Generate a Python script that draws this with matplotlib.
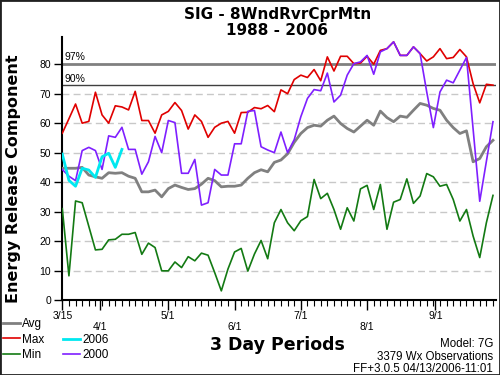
import matplotlib
matplotlib.use("Agg")
import matplotlib.pyplot as plt
from matplotlib.patches import Rectangle

plt.rcParams['font.family'] = ['Liberation Sans', 'DejaVu Sans']
wide = ['DejaVu Sans']

# 3 day periods starting 3/15
periods = list(range(66))

avg = [44.7, 44.7, 44.7, 45.0, 42.4, 41.8, 41.3, 43.2, 43.0, 43.2,
       42.0, 41.3, 36.7, 36.7, 37.3, 35.0, 37.8, 39.0, 38.2, 37.5,
       37.8, 39.3, 41.3, 40.5, 38.4, 38.6, 38.6, 39.0, 41.3, 43.2,
       44.2, 43.5, 46.7, 47.5, 49.6, 53.5, 56.5, 58.5, 59.3, 59.0,
       61.0, 62.4, 59.9, 58.2, 57.0, 59.0, 61.0, 59.3, 64.1, 61.9,
       60.5, 62.4, 62.0, 64.4, 66.7, 66.1, 65.0, 64.4, 61.0, 58.5,
       56.5, 57.4, 46.9, 48.0, 52.0, 54.2]

mx = [56.6, 61.5, 66.5, 60.0, 60.6, 70.5, 62.8, 60.0, 65.9, 65.5,
      64.5, 70.8, 60.9, 60.9, 56.6, 62.8, 64.0, 67.0, 64.3, 58.0,
      62.8, 60.6, 55.2, 58.6, 60.0, 60.6, 56.6, 63.6, 63.7, 65.3,
      64.9, 66.0, 63.9, 71.3, 70.0, 74.8, 76.3, 75.5, 78.2, 74.4,
      82.5, 77.7, 82.7, 82.7, 80.2, 80.4, 82.7, 80.0, 84.7, 85.3,
      87.6, 83.0, 83.0, 85.9, 83.6, 81.1, 82.5, 85.3, 81.9, 82.3,
      85.0, 82.5, 73.4, 66.9, 73.2, 72.9]

mn = [31.0, 8.2, 33.6, 33.0, 25.0, 17.0, 17.2, 20.4, 20.6, 22.3,
      22.3, 22.9, 15.5, 19.3, 17.8, 9.9, 9.9, 12.9, 11.0, 14.7,
      13.3, 15.9, 15.2, 9.3, 3.1, 10.5, 16.3, 17.5, 9.8, 15.6,
      20.2, 14.0, 26.2, 30.7, 26.2, 23.5, 26.9, 28.3, 40.9, 34.4,
      36.2, 30.7, 24.0, 31.3, 26.8, 37.7, 38.9, 30.7, 39.2, 24.0,
      33.2, 34.1, 41.1, 32.8, 35.3, 42.9, 41.8, 38.6, 39.2, 34.1,
      26.8, 30.7, 21.7, 14.4, 26.2, 35.5]

y2000 = [44.3, 42.0, 40.5, 50.7, 51.8, 50.7, 44.3, 55.7, 55.2, 58.6,
         51.1, 51.1, 42.7, 46.9, 55.5, 50.0, 60.9, 60.2, 43.0, 43.0,
         47.7, 32.2, 33.0, 44.3, 42.4, 42.4, 53.0, 53.0, 64.0, 64.3,
         52.0, 50.9, 50.0, 57.0, 50.0, 54.4, 62.2, 68.4, 71.4, 71.0,
         77.0, 67.2, 69.5, 76.3, 80.2, 80.8, 83.0, 76.6, 84.2, 85.3,
         87.6, 83.0, 83.0, 85.9, 83.6, 70.6, 58.5, 70.6, 74.6, 73.7,
         78.0, 82.3, 58.0, 33.5, 47.0, 60.5]

y2006 = [49.5, 40.6, 38.6, 44.7, 44.1, 41.6, 48.6, 49.8, 45.0, 51.1]

date_pos = [0, 5.7, 16, 26, 36, 46, 56.3]
date_labels = ['3/15', '\n4/1', '5/1', '\n6/1', '7/1', '\n8/1', '9/1']

pct97 = 80.0
pct90 = 72.8

fig = plt.figure(figsize=(5, 3.75), dpi=100)
ax = fig.add_axes([0.1246, 0.2, 0.868, 0.701])

for v in range(10, 80, 10):
    ax.axhline(v, color='#c8c8c8', lw=1, ls=(0, (5, 3)), zorder=0)
ax.axhline(pct97, color='#808080', lw=2, zorder=1)
ax.axhline(pct90, color='#404040', lw=1, zorder=1)
ax.text(0.3, pct97 + 0.6, '97%', fontsize=7.5, va='bottom', ha='left')
ax.text(0.3, pct90 + 0.6, '90%', fontsize=7.5, va='bottom', ha='left')

l_avg, = ax.plot(periods, avg, color='#808080', lw=2, label='Avg', zorder=3)
l_max, = ax.plot(periods, mx, color='#e00000', lw=1.2, label='Max', zorder=3)
l_min, = ax.plot(periods, mn, color='#137a13', lw=1.2, label='Min', zorder=3)
l_00, = ax.plot(periods, y2000, color='#7f1fff', lw=1.2, label='2000', zorder=4)
l_06, = ax.plot(periods[:len(y2006)], y2006, color='#00e8f0', lw=2, label='2006', zorder=5)

ax.set_xlim(0, 65.5)
ax.set_ylim(0, 89.2)
ax.spines['top'].set_visible(False)
ax.spines['right'].set_visible(False)
ax.spines['left'].set_linewidth(1.5)
ax.spines['bottom'].set_linewidth(1.5)

ax.set_yticks(range(0, 90, 10))
ax.tick_params(axis='y', direction='out', length=6, width=1, labelsize=7.5, pad=2)
ax.set_xticks(date_pos)
ax.set_xticklabels(date_labels, fontsize=7.5, linespacing=1.1)
ax.set_xticks(periods, minor=True)
ax.tick_params(axis='x', which='major', direction='out', length=7, width=1, pad=1)
ax.tick_params(axis='x', which='minor', direction='out', length=4, width=0.8)

ax.set_ylabel('Energy Release Component', fontsize=11.5, fontweight='bold',
              family=wide)
ax.yaxis.set_label_coords(-0.095, 0.46)

fig.text(0.555, 0.962, 'SIG - 8WndRvrCprMtn', ha='center', va='center',
         fontsize=11, fontweight='bold', family=wide)
fig.text(0.555, 0.919, '1988 - 2006', ha='center', va='center',
         fontsize=11, fontweight='bold', family=wide)

fig.text(0.554, 0.08, '3 Day Periods', ha='center', va='center',
         fontsize=12.5, fontweight='bold', family=wide)
fig.text(0.986, 0.083, 'Model: 7G', ha='right', va='center', fontsize=8.3)
fig.text(0.986, 0.049, '3379 Wx Observations', ha='right', va='center', fontsize=8.3)
fig.text(0.986, 0.016, 'FF+3.0.5 04/13/2006-11:01', ha='right', va='center', fontsize=8.3)

leg_kw = dict(frameon=False, fontsize=8.5, handlelength=1.45, handletextpad=0.17,
              labelspacing=0.27, borderpad=0, borderaxespad=0)
fig.legend(handles=[l_avg, l_max, l_min], loc='upper left',
           bbox_to_anchor=(0.006, 0.151), **leg_kw)
fig.legend(handles=[l_06, l_00], loc='upper left',
           bbox_to_anchor=(0.126, 0.110), **leg_kw)

fig.add_artist(Rectangle((0, 0), 1, 1, transform=fig.transFigure,
                         fill=False, edgecolor='#202020', lw=2))

fig.savefig('out.png', dpi=100)
